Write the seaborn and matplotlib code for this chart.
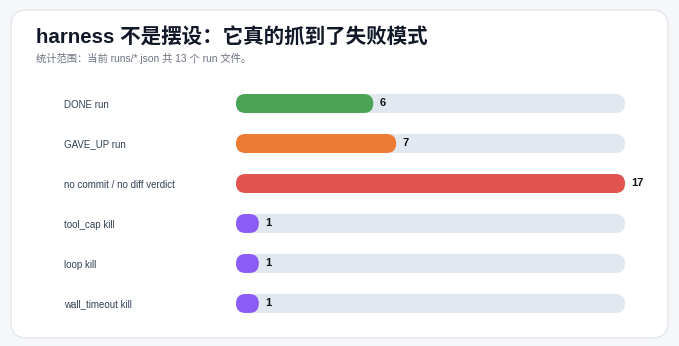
import matplotlib
matplotlib.use("Agg")
import matplotlib.pyplot as plt
import seaborn as sns
import pandas as pd
from matplotlib.patches import FancyBboxPatch, Rectangle

categories = ["DONE run", "GAVE_UP run", "no commit / no diff verdict",
              "tool_cap kill", "loop kill", "wall_timeout kill"]
values = [6, 7, 17, 1, 1, 1]
bar_colors = ["#4ba456", "#ec7c34", "#e0534f", "#8b5cf6", "#8b5cf6", "#8b5cf6"]
max_value = 17
title = "harness 不是摆设：它真的抓到了失败模式"
subtitle = "统计范围：当前 runs/*.json 共 13 个 run 文件。"

sns.set_theme(style="white")
plt.rcParams['font.family'] = ['Liberation Sans', 'Noto Sans CJK SC', 'DejaVu Sans']

W, H = 679, 346
fig = plt.figure(figsize=(W / 100, H / 100), dpi=100)
fig.patch.set_facecolor("#f6f7f9")

# card
card = FancyBboxPatch((11 / W, 1 - 338 / H), (668 - 11) / W, (338 - 10) / H,
                      boxstyle=f"round,pad=0,rounding_size={16 / W}",
                      mutation_aspect=W / H, transform=fig.transFigure,
                      facecolor="white", edgecolor="#e4e7ec", linewidth=1.0,
                      zorder=-5)
fig.patches.append(card)

fig.text(36 / W, 1 - 38 / H, title, fontsize=14.8, fontweight="bold",
         color="#111827", va="center", ha="left")
fig.text(36 / W, 1 - 58 / H, subtitle, fontsize=7.4, color="#6b7280",
         va="center", ha="left")

x0, x1 = 236, 625
y_top, y_bot = 83.5, 323.5
ax = fig.add_axes([x0 / W, 1 - y_bot / H, (x1 - x0) / W, (y_bot - y_top) / H])
ax.set_facecolor("none")
ax.set_zorder(2)

df = pd.DataFrame({"category": categories, "value": values})
track = pd.DataFrame({"category": categories, "value": [max_value] * len(categories)})

sns.barplot(data=track, x="value", y="category", color="#e2e8f0", width=0.475,
            ax=ax, saturation=1)
sns.barplot(data=df, x="value", y="category", hue="category",
            palette=bar_colors, width=0.475, ax=ax, saturation=1, legend=False)

ax.set_xlim(0, max_value)
ax.set_ylim(len(categories) - 0.5, -0.5)

# convert rectangles into rounded bars
xpp = max_value / (x1 - x0)
ypp = len(categories) / (y_bot - y_top)
for p in list(ax.patches):
    if isinstance(p, Rectangle):
        x, y = p.get_x(), p.get_y()
        w, h = p.get_width(), p.get_height()
        r = (h / ypp) / 2 * xpp
        rb = FancyBboxPatch((x, y), w, h,
                            boxstyle=f"round,pad=0,rounding_size={r}",
                            mutation_aspect=ypp / xpp,
                            facecolor=p.get_facecolor(), edgecolor="none",
                            zorder=p.get_zorder())
        p.remove()
        ax.add_patch(rb)

for i, v in enumerate(values):
    ax.annotate(str(v), (v, i), xytext=(6, 1), textcoords="offset pixels",
                va="center", ha="left", fontsize=8, fontweight="bold",
                color="#111111")

ax.set_yticks(range(len(categories)), categories, ha="left")
ax.tick_params(axis="y", length=0, pad=(x0 - 64) * 0.72, labelsize=7, labelcolor="#334155")
for lbl in ax.get_yticklabels():
    lbl.set_va("center_baseline")
ax.set_xticks([])
ax.set_xlabel("")
ax.set_ylabel("")
for s in ax.spines.values():
    s.set_visible(False)

fig.savefig("out.png", dpi=100, facecolor=fig.get_facecolor())
